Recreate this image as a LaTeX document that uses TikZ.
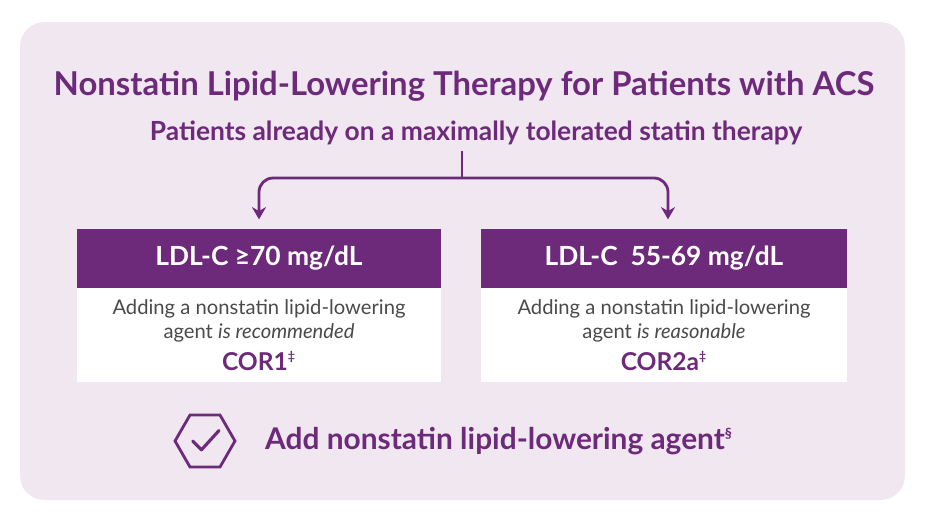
\documentclass[tikz,border=0pt]{standalone}
\usepackage{fontspec}
\setmainfont{Lato}
\usetikzlibrary{positioning,shapes.geometric,arrows.meta}
\definecolor{plum}{HTML}{6E2A7A}
\definecolor{lilac}{HTML}{F0E7F1}
\definecolor{bodygray}{HTML}{4A4A4A}
\tikzset{
	headBox/.style={rectangle, fill=plum, text=white, minimum width=7.28cm, minimum height=1.18cm, font=\fontsize{15}{18}\selectfont\bfseries},
	bodyBox/.style={rectangle, fill=white, minimum width=7.28cm, minimum height=1.88cm},
	bodyText/.style={text=bodygray, font=\fontsize{11.5}{14}\selectfont, align=center},
	corText/.style={text=plum, font=\fontsize{14}{16}\selectfont\bfseries}
}
\begin{document}
\begin{tikzpicture}[x=0.02cm, y=-0.02cm]
	\useasboundingbox (0,0) rectangle (927,522);
	\fill[lilac, rounded corners=14pt] (20,22) -- (905,22) -- (905,500) -- (20,500) -- cycle;

	\node[text=plum, font=\fontsize{18.7}{22}\selectfont\bfseries](title) at (464,86){Nonstatin Lipid-Lowering Therapy for Patients with ACS};
	\node[text=plum, font=\fontsize{15}{18}\selectfont\bfseries](subtitle) at (476,133){Patients already on a maximally tolerated statin therapy};

	% two columns
	\node[headBox](leftHead) at (259,258){LDL-C ≥70 mg/dL};
	\node[bodyBox, below=0pt of leftHead](leftBody){};
	\node[bodyText](leftText) at (259,321){Adding a nonstatin lipid-lowering\\agent \textit{is recommended}};
	\node[corText](leftCor) at (259,361){COR1\textsuperscript{\scriptsize‡}};

	\node[headBox, minimum width=7.34cm](rightHead) at (664,258){LDL-C\ \ 55-69 mg/dL};
	\node[bodyBox, minimum width=7.34cm, below=0pt of rightHead](rightBody){};
	\node[bodyText](rightText) at (664,321){Adding a nonstatin lipid-lowering\\agent \textit{is reasonable}};
	\node[corText](rightCor) at (664,361){COR2a\textsuperscript{\scriptsize‡}};

	% split connector
	\coordinate (split) at (462,178);
	\draw[plum, line width=1.6pt] (subtitle.south -| split) -- (split);
	\draw[plum, line width=1.6pt, rounded corners=8pt, -{Stealth[length=7pt,width=8pt]}] (split) -| ([yshift=5pt]leftHead.north);
	\draw[plum, line width=1.6pt, rounded corners=8pt, -{Stealth[length=7pt,width=8pt]}] (split) -| ([yshift=5pt]rightHead.north -| 668,0);

	% action
	\node[regular polygon, regular polygon sides=6, draw=plum, line width=1.6pt, minimum size=1.2cm](hexIcon) at (205,441){};
	\draw[plum, line width=1.8pt, line cap=round, line join=round] ([xshift=-7pt]hexIcon.center) -- ([xshift=-2pt,yshift=-5pt]hexIcon.center) -- ([xshift=8pt,yshift=6pt]hexIcon.center);
	\node[text=plum, font=\fontsize{17}{20}\selectfont\bfseries, anchor=west](action) at (259,441){Add nonstatin lipid-lowering agent\textsuperscript{\footnotesize§}};
\end{tikzpicture}
\end{document}
